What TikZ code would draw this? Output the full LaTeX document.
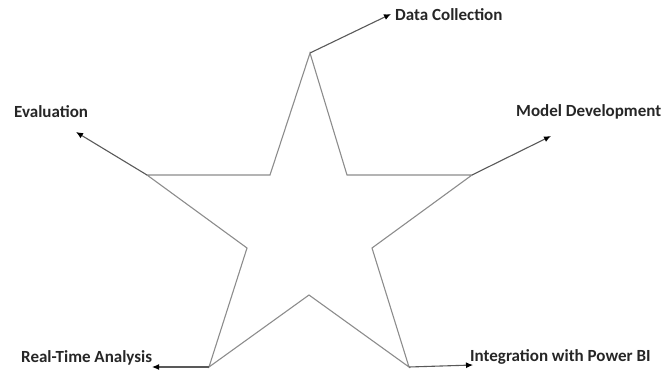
\documentclass[tikz,border=0pt]{standalone}
\usepackage{fontspec}
\setmainfont{Carlito}
\usetikzlibrary{arrows.meta}
\begin{document}
\begin{tikzpicture}[x=1pt,y=-1pt,
  starline/.style={draw=black!45,line width=1.1pt,line join=miter},
  arr/.style={draw=black!65,line width=1.1pt,-{Latex[length=7pt,width=6pt,black]}},
  lbl/.style={font=\bfseries\fontsize{17}{19}\selectfont,inner sep=0pt,anchor=west,text=black!85}]
\useasboundingbox (0,0) rectangle (662,373);
% star points
\coordinate (top) at (310,53);
\coordinate (itr) at (347,175);
\coordinate (rt) at (472,175);
\coordinate (ir) at (372,248);
\coordinate (br) at (409,367);
\coordinate (ib) at (309,295);
\coordinate (bl) at (209,367);
\coordinate (il) at (247,248);
\coordinate (lt) at (147,175);
\coordinate (itl) at (270,175);
\draw[starline] (top) -- (itr) -- (rt) -- (ir) -- (br) -- (ib) -- (bl) -- (il) -- (lt) -- (itl) -- cycle;
% labels
\node[lbl] (dc) at (395,15) {Data Collection};
\node[lbl] (ev) at (14,112) {Evaluation};
\node[lbl] (md) at (516,112) {Model Development};
\node[lbl] (rta) at (21,358) {Real-Time Analysis};
\node[lbl] (ipb) at (470,357) {Integration with Power BI};
% arrow tips
\coordinate (tdc) at (391,14);
\coordinate (tev) at (76,132);
\coordinate (tmd) at (551,136);
\coordinate (trta) at (152,367);
\coordinate (tipb) at (473,365);
\draw[arr] (top) -- (tdc);
\draw[arr] (lt) -- (tev);
\draw[arr] (rt) -- (tmd);
\draw[arr] (bl) -- (trta);
\draw[arr] (br) -- (tipb);
\end{tikzpicture}
\end{document}
